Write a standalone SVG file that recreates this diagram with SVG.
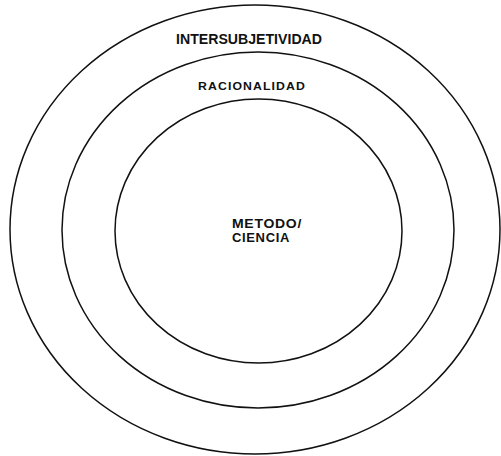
<svg xmlns="http://www.w3.org/2000/svg" width="501" height="456" viewBox="0 0 501 456">
<style>
.ring{fill:none;stroke:#111;stroke-width:1.5}
.lbl{font-family:"Liberation Sans",Arial,sans-serif;font-weight:bold;fill:#111}
</style>
<rect width="501" height="456" fill="#fff"/>
<g id="outer">
<ellipse class="ring" cx="255" cy="229.5" rx="245" ry="224.5"/>
<text class="lbl" x="176" y="44" font-size="14" textLength="146" lengthAdjust="spacingAndGlyphs">INTERSUBJETIVIDAD</text>
</g>
<g id="middle">
<ellipse class="ring" cx="258" cy="230" rx="196" ry="178"/>
<text class="lbl" x="198" y="90" font-size="11" letter-spacing="1" textLength="108" lengthAdjust="spacingAndGlyphs">RACIONALIDAD</text>
</g>
<g id="inner">
<ellipse class="ring" cx="258.5" cy="231" rx="143.5" ry="132"/>
<text class="lbl" x="232" y="228" font-size="12" letter-spacing="0.6" textLength="70" lengthAdjust="spacingAndGlyphs">METODO/</text>
<text class="lbl" x="232" y="242" font-size="12" letter-spacing="0.6" textLength="58" lengthAdjust="spacingAndGlyphs">CIENCIA</text>
</g>
<g id="connectors"/>
</svg>
